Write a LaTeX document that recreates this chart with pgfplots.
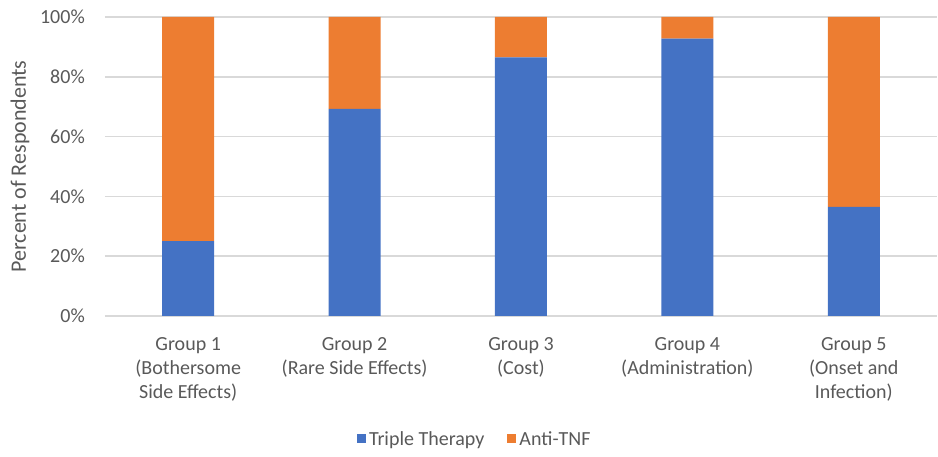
\documentclass[border=0pt]{standalone}
\usepackage{fontspec}
\setmainfont{Carlito}
\usepackage{pgfplots}
\pgfplotsset{compat=1.18}
\definecolor{tblue}{HTML}{4472C4}
\definecolor{torange}{HTML}{ED7D31}
\definecolor{txt}{HTML}{595959}
\definecolor{grd}{HTML}{D9D9D9}
\begin{document}
\begin{tikzpicture}
\begin{axis}[
  at={(0,0)}, anchor=south west,
  scale only axis, width=832pt, height=299pt,
  ybar stacked, bar width=52pt,
  xmin=-0.5, xmax=4.5, ymin=0, ymax=100,
  xtick={0,1,2,3,4},
  xticklabels={{Group 1\\(Bothersome\\Side Effects)},{Group 2\\(Rare Side Effects)},{Group 3\\(Cost)},{Group 4\\(Administration)},{Group 5\\(Onset and\\Infection)}},
  ytick={0,20,40,60,80,100},
  /pgf/number format/assume math mode=true,
  yticklabel={\pgfmathprintnumber{\tick}\%},
  axis line style={draw=none},
  ymajorgrids, grid style={grd, line width=1.5pt},
  major tick length=0pt,
  every tick label/.append style={font=\fontsize{20}{24}\selectfont, text=txt},
  x tick label style={align=center, anchor=north, inner sep=0pt, yshift=-21pt},
  y tick label style={anchor=east, inner sep=0pt, xshift=-20pt},
  every axis y label/.style={at={(axis description cs:-0.102,0.5)}, rotate=90, anchor=center, font=\fontsize{22}{26}\selectfont, text=txt},
  ylabel={Percent of Respondents},
  legend style={at={(axis description cs:0.445,-0.411)}, anchor=center, legend columns=2, draw=none, fill=none,
    font=\fontsize{20}{24}\selectfont, text=txt,
    nodes={inner sep=3pt},
    /tikz/every even column/.append style={column sep=20pt}},
  legend image code/.code={\fill[#1] (0pt,-4.5pt) rectangle (9pt,4.5pt);},
]
\addplot[fill=tblue, draw=none] coordinates {(0,25) (1,69.3) (2,86.5) (3,92.8) (4,36.5)};
\addplot[fill=torange, draw=none] coordinates {(0,75) (1,30.7) (2,13.5) (3,7.2) (4,63.5)};
\legend{Triple Therapy, Anti-TNF}
\end{axis}
\pgfresetboundingbox
\path (-105pt,-141pt) rectangle (833pt,316pt);
\end{tikzpicture}
\end{document}
